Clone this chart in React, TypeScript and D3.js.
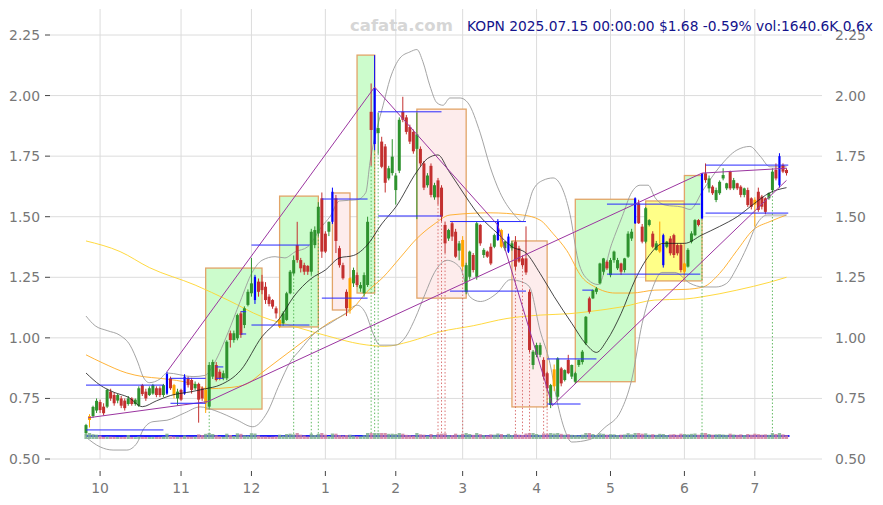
import React, { useEffect, useRef } from 'react';
import * as d3 from 'd3';

// daily candles, Sep 25 2024 .. Jul 15 2025: [open, high, low, close]
const candles: number[][] = [
  [0.607, 0.645, 0.595, 0.64], [0.661, 0.685, 0.63, 0.677], [0.677, 0.72, 0.67, 0.715], [0.7, 0.75, 0.69, 0.74],
  [0.735, 0.745, 0.69, 0.702], [0.716, 0.73, 0.68, 0.689], [0.716, 0.79, 0.71, 0.785], [0.778, 0.79, 0.74, 0.75],
  [0.764, 0.775, 0.72, 0.73], [0.741, 0.77, 0.73, 0.764], [0.75, 0.76, 0.71, 0.72], [0.741, 0.75, 0.7, 0.71],
  [0.727, 0.76, 0.72, 0.75], [0.75, 0.755, 0.72, 0.727], [0.727, 0.75, 0.72, 0.745], [0.72, 0.8, 0.715, 0.792],
  [0.805, 0.81, 0.76, 0.768], [0.778, 0.79, 0.74, 0.75], [0.764, 0.8, 0.76, 0.792], [0.77, 0.81, 0.765, 0.805],
  [0.792, 0.8, 0.755, 0.764], [0.792, 0.8, 0.755, 0.764], [0.764, 0.81, 0.755, 0.805], [0.77, 0.86, 0.765, 0.851],
  [0.833, 0.84, 0.785, 0.792], [0.805, 0.81, 0.75, 0.764], [0.75, 0.79, 0.72, 0.778], [0.785, 0.79, 0.74, 0.745],
  [0.77, 0.85, 0.765, 0.84], [0.833, 0.84, 0.795, 0.805], [0.826, 0.835, 0.77, 0.785], [0.792, 0.82, 0.785, 0.81],
  [0.81, 0.815, 0.65, 0.745], [0.792, 0.8, 0.74, 0.75], [0.73, 0.8, 0.69, 0.785], [0.716, 0.9, 0.71, 0.888],
  [0.84, 0.91, 0.83, 0.9], [0.888, 0.9, 0.82, 0.826], [0.86, 0.87, 0.825, 0.833], [0.833, 0.865, 0.825, 0.854],
  [0.833, 0.99, 0.825, 0.984], [1.019, 1.03, 0.96, 0.991], [0.991, 1.03, 0.98, 1.019], [0.998, 1.1, 0.99, 1.094],
  [1.101, 1.11, 1.0, 1.012], [1.053, 1.13, 1.04, 1.122], [1.136, 1.2, 1.13, 1.19], [1.184, 1.33, 1.17, 1.225],
  [1.156, 1.26, 1.14, 1.252], [1.232, 1.245, 1.17, 1.19], [1.232, 1.26, 1.18, 1.197], [1.211, 1.23, 1.14, 1.156],
  [1.17, 1.18, 1.13, 1.14], [1.156, 1.16, 1.12, 1.129], [1.122, 1.13, 1.08, 1.101], [1.046, 1.08, 1.04, 1.074],
  [1.06, 1.11, 1.05, 1.101], [1.074, 1.19, 1.07, 1.184], [1.184, 1.28, 1.18, 1.273], [1.266, 1.34, 1.26, 1.321],
  [1.383, 1.479, 1.31, 1.321], [1.321, 1.33, 1.27, 1.287], [1.3, 1.31, 1.26, 1.273], [1.297, 1.3, 1.26, 1.273],
  [1.273, 1.45, 1.26, 1.438], [1.383, 1.46, 1.37, 1.445], [1.431, 1.56, 1.42, 1.541], [1.576, 1.6, 1.33, 1.356],
  [1.43, 1.44, 1.35, 1.356], [1.438, 1.48, 1.42, 1.479], [1.479, 1.62, 1.47, 1.603], [1.576, 1.59, 1.35, 1.4],
  [1.37, 1.38, 1.29, 1.3], [1.3, 1.31, 1.24, 1.246], [1.19, 1.2, 1.09, 1.122], [1.122, 1.25, 1.1, 1.246],
  [1.225, 1.29, 1.21, 1.28], [1.259, 1.27, 1.21, 1.218], [1.204, 1.23, 1.19, 1.218], [1.184, 1.27, 1.17, 1.259],
  [1.218, 1.5, 1.21, 1.479], [1.933, 2.05, 1.71, 1.858], [1.8, 2.167, 1.775, 2.03], [1.845, 1.93, 1.76, 1.866],
  [1.81, 1.83, 1.7, 1.706], [1.79, 1.8, 1.6, 1.64], [1.658, 1.71, 1.65, 1.7], [1.68, 1.82, 1.67, 1.748],
  [1.61, 1.68, 1.55, 1.67], [1.69, 1.91, 1.68, 1.9], [1.933, 1.995, 1.89, 1.9], [1.91, 1.92, 1.84, 1.85],
  [1.87, 1.88, 1.8, 1.81], [1.85, 1.86, 1.76, 1.77], [1.78, 1.93, 1.49, 1.84], [1.78, 1.79, 1.71, 1.72],
  [1.72, 1.73, 1.61, 1.62], [1.63, 1.68, 1.62, 1.67], [1.71, 1.72, 1.58, 1.59], [1.58, 1.64, 1.57, 1.63],
  [1.65, 1.66, 1.55, 1.58], [1.62, 1.63, 1.48, 1.5], [1.466, 1.48, 1.35, 1.39], [1.41, 1.45, 1.4, 1.445],
  [1.473, 1.48, 1.4, 1.418], [1.438, 1.45, 1.33, 1.335], [1.36, 1.4, 1.32, 1.39], [1.404, 1.42, 1.28, 1.294],
  [1.19, 1.31, 1.18, 1.3], [1.252, 1.36, 1.24, 1.356], [1.342, 1.35, 1.27, 1.28], [1.252, 1.48, 1.24, 1.473],
  [1.466, 1.47, 1.38, 1.39], [1.342, 1.37, 1.33, 1.363], [1.356, 1.36, 1.33, 1.335], [1.376, 1.39, 1.3, 1.307],
  [1.376, 1.43, 1.37, 1.424], [1.404, 1.49, 1.4, 1.479], [1.445, 1.45, 1.37, 1.376], [1.37, 1.4, 1.36, 1.397],
  [1.356, 1.43, 1.35, 1.418], [1.37, 1.4, 1.36, 1.39], [1.397, 1.42, 1.28, 1.294], [1.37, 1.38, 1.31, 1.315],
  [1.328, 1.34, 1.29, 1.3], [1.328, 1.46, 1.26, 1.27], [1.19, 1.2, 0.94, 0.95], [0.888, 0.95, 0.87, 0.943],
  [0.93, 0.98, 0.92, 0.97], [0.93, 0.98, 0.92, 0.97], [0.909, 0.92, 0.83, 0.84], [0.854, 0.86, 0.78, 0.792],
  [0.723, 0.81, 0.71, 0.805], [0.8, 0.89, 0.78, 0.87], [0.757, 0.92, 0.743, 0.915], [0.874, 0.88, 0.8, 0.812],
  [0.826, 0.87, 0.82, 0.867], [0.909, 0.93, 0.85, 0.854], [0.84, 0.89, 0.83, 0.888], [0.819, 0.86, 0.81, 0.854],
  [0.888, 0.91, 0.88, 0.909], [0.9, 0.95, 0.89, 0.943], [0.977, 1.09, 0.97, 1.087], [1.163, 1.17, 1.1, 1.108],
  [1.163, 1.2, 1.16, 1.197], [1.19, 1.21, 1.18, 1.204], [1.225, 1.31, 1.22, 1.307], [1.273, 1.33, 1.26, 1.328],
  [1.314, 1.32, 1.28, 1.287], [1.259, 1.33, 1.25, 1.321], [1.321, 1.36, 1.31, 1.356], [1.287, 1.33, 1.28, 1.321],
  [1.307, 1.31, 1.26, 1.273], [1.28, 1.33, 1.27, 1.328], [1.335, 1.44, 1.33, 1.43], [1.41, 1.45, 1.4, 1.438],
  [1.473, 1.58, 1.47, 1.576], [1.555, 1.57, 1.47, 1.473], [1.459, 1.47, 1.39, 1.397], [1.397, 1.54, 1.39, 1.535],
  [1.466, 1.49, 1.46, 1.486], [1.43, 1.44, 1.37, 1.376], [1.363, 1.4, 1.36, 1.39], [1.356, 1.48, 1.35, 1.383],
  [1.3, 1.43, 1.29, 1.424], [1.376, 1.4, 1.37, 1.397], [1.41, 1.42, 1.34, 1.349], [1.424, 1.43, 1.33, 1.342],
  [1.383, 1.39, 1.34, 1.349], [1.383, 1.39, 1.27, 1.28], [1.273, 1.31, 1.26, 1.307], [1.294, 1.37, 1.29, 1.363],
  [1.397, 1.44, 1.39, 1.431], [1.424, 1.49, 1.42, 1.486], [1.486, 1.49, 1.46, 1.466], [1.493, 1.68, 1.49, 1.679],
  [1.679, 1.72, 1.64, 1.651], [1.617, 1.67, 1.6, 1.658], [1.624, 1.63, 1.59, 1.597], [1.569, 1.62, 1.56, 1.61],
  [1.597, 1.65, 1.59, 1.644], [1.658, 1.7, 1.65, 1.672], [1.617, 1.64, 1.61, 1.638], [1.686, 1.69, 1.61, 1.617],
  [1.617, 1.66, 1.61, 1.651], [1.638, 1.64, 1.61, 1.617], [1.624, 1.63, 1.58, 1.59], [1.59, 1.62, 1.58, 1.617],
  [1.61, 1.62, 1.54, 1.548], [1.576, 1.58, 1.53, 1.541], [1.57, 1.58, 1.459, 1.55], [1.603, 1.62, 1.52, 1.528],
  [1.583, 1.59, 1.53, 1.541], [1.576, 1.58, 1.51, 1.52], [1.576, 1.6, 1.57, 1.597], [1.61, 1.7, 1.6, 1.686],
  [1.693, 1.72, 1.65, 1.658], [1.63, 1.762, 1.62, 1.75], [1.713, 1.72, 1.68, 1.686], [1.693, 1.7, 1.67, 1.68],
];

// daily volume, thousands of shares
const volumes = [
  2600, 3100, 2300, 2000, 1500, 700, 900, 800, 700, 600, 600, 700, 1800, 600, 500, 900, 700, 600, 600, 700,
  600, 700, 900, 2600, 1200, 900, 800, 700, 1500, 900, 800, 900, 2200, 1800, 2500, 3200, 2400, 1600, 1000, 800,
  2600, 1800, 1200, 2800, 2500, 1600, 1500, 2900, 2700, 1500, 900, 900, 700, 800, 1000, 2000, 1500, 2400, 2600, 2200,
  3100, 2000, 1500, 900, 2600, 1800, 2500, 3200, 2000, 1200, 2700, 2600, 1700, 1500, 1800, 2000, 1400, 1100, 1000, 1600,
  5000, 9000, 12000, 6000, 4000, 3500, 2500, 2600, 2400, 3100, 2600, 1900, 1700, 1500, 4200, 2200, 2000, 1500, 2400, 1600,
  2500, 2600, 2800, 1700, 1800, 2600, 1900, 2500, 3000, 2400, 1900, 3000, 2300, 1800, 1600, 2200, 2000, 2700, 2400, 1700,
  2500, 1800, 2600, 2000, 1900, 2700, 4500, 3200, 2400, 1900, 2800, 2600, 3000, 2700, 3100, 2500, 2000, 2300, 1900, 1800,
  1600, 2000, 3500, 3000, 2400, 1800, 2800, 2500, 2000, 2300, 2200, 1800, 2000, 2100, 2900, 2200, 4000, 3000, 2600, 2800,
  2000, 2300, 1900, 2500, 2400, 1800, 2100, 2300, 1900, 2600, 2400, 2200, 2500, 2700, 2000, 4200, 3000, 2400, 2000, 2200,
  2300, 2100, 1900, 2600, 2100, 1900, 2200, 1800, 2400, 2000, 2600, 2300, 2000, 2200, 1900, 3000, 2400, 3500, 2200, 1640,
];

const blueDays = [23, 28, 48, 70, 82, 117, 120, 156, 164, 175, 197];
const orangeDays = [1, 25, 34, 55, 75, 107, 118, 133, 163, 170, 190];
const greenMarkDays = [35, 59, 64, 66, 81, 82, 83, 175, 195];
const redMarkDays = [100, 101, 102, 107, 122, 124, 126, 130, 131];

const monthTickDays = [4, 27, 47, 68, 88, 107, 128, 149, 170, 190];
const monthLabels = ['10', '11', '12', '1', '2', '3', '4', '5', '6', '7'];
const priceTicks = [0.5, 0.75, 1.0, 1.25, 1.5, 1.75, 2.0, 2.25];

// indicator lines: [day, price]
const ma20: number[][] = [
  [0, 0.855], [4, 0.805], [8, 0.775], [12, 0.755], [16, 0.716], [20, 0.74], [24, 0.762], [30, 0.778],
  [34, 0.79], [38, 0.805], [44, 0.867], [50, 1.005], [55, 1.08], [59, 1.17], [64, 1.245], [68, 1.28],
  [72, 1.33], [76, 1.34], [80, 1.385], [84, 1.47], [88, 1.54], [94, 1.686], [97, 1.74], [100, 1.755],
  [103, 1.69], [106, 1.624], [112, 1.5], [117, 1.43], [121, 1.376], [125, 1.35], [129, 1.266], [133, 1.17],
  [138, 1.06], [142, 0.975], [145, 0.94], [148, 0.99], [152, 1.1], [156, 1.24], [160, 1.34], [164, 1.39],
  [170, 1.39], [175, 1.425], [180, 1.46], [185, 1.5], [190, 1.556], [194, 1.597], [199, 1.62],
];
const bandUpper: number[][] = [
  [0, 1.09], [2.6, 1.05], [6, 1.03], [9.7, 1.01], [12.5, 0.97], [14.8, 0.896], [16.2, 0.84], [18, 0.815],
  [21, 0.83], [23, 0.855], [30.4, 0.84], [33.8, 0.845], [36.6, 0.9], [40.3, 1.02], [43.8, 1.15], [47.2, 1.27],
  [50, 1.32], [53.7, 1.335], [56.5, 1.33], [59.4, 1.355], [63, 1.376], [67, 1.46], [69.3, 1.5], [72, 1.565],
  [77, 1.57], [79.5, 1.6], [80.7, 1.727], [82.7, 1.866], [84.4, 1.96], [86.4, 2.07], [89.2, 2.155], [92, 2.18],
  [94, 2.19], [95.7, 2.14], [97.7, 2.04], [99.7, 1.97], [101.4, 1.96], [103.4, 1.99], [106.3, 1.99], [108.5, 1.97],
  [112, 1.845], [114.8, 1.706], [117.6, 1.6], [121.3, 1.515], [124, 1.48], [125.3, 1.53], [127, 1.61], [129.8, 1.65],
  [132.7, 1.66], [135.5, 1.61], [137.5, 1.51], [139.8, 1.32], [142.6, 1.24], [145.5, 1.22], [149.4, 1.39], [152.3, 1.5],
  [155, 1.6], [157.4, 1.63], [159.7, 1.63], [161.6, 1.58], [164.5, 1.548], [169.3, 1.54], [171.6, 1.53], [175.3, 1.61],
  [180, 1.706], [184.9, 1.775], [188.6, 1.79], [191.5, 1.75], [194.3, 1.706], [199, 1.706],
];
const bandLower: number[][] = [
  [0, 0.59], [4, 0.55], [7.7, 0.537], [11.6, 0.537], [14.5, 0.566], [16.2, 0.62], [19, 0.654], [23, 0.66],
  [28, 0.69], [32.4, 0.715], [36.6, 0.7], [40, 0.68], [43, 0.66], [47.4, 0.633], [51.4, 0.69], [55, 0.81],
  [58, 0.9], [60.8, 0.95], [65, 1.02], [69.3, 1.06], [73.6, 1.1], [77, 1.135], [79.5, 1.1], [81.5, 1.02],
  [83.5, 0.97], [87.8, 0.97], [90.6, 1.0], [93.5, 1.08], [96.3, 1.18], [99, 1.27], [102.6, 1.32], [106.3, 1.29],
  [109, 1.17], [112, 1.15], [116.8, 1.185], [120.5, 1.24], [124, 1.23], [126, 1.21], [129, 1.03], [131.8, 0.895],
  [133.8, 0.74], [136, 0.62], [138, 0.57], [143, 0.58], [147.4, 0.63], [152, 0.7], [155, 0.826], [158, 1.06],
  [160.8, 1.2], [163.6, 1.27], [167.3, 1.27], [171.6, 1.225], [175.3, 1.21], [179, 1.21], [182, 1.225], [184.9, 1.29],
  [187.8, 1.376], [190.6, 1.47], [193.5, 1.507], [199, 1.507],
];
const ma50: number[][] = [
  [0, 0.93], [4.8, 0.896], [11.6, 0.855], [16.2, 0.84], [21, 0.833], [30.4, 0.81], [34.4, 0.79], [40.9, 0.795],
  [45.7, 0.81], [50.3, 0.86], [59.4, 0.96], [68.8, 1.06], [75.9, 1.123], [79.8, 1.19], [84.4, 1.25], [89.2, 1.33],
  [94, 1.41], [98.6, 1.466], [103.4, 1.507], [114.8, 1.516], [124, 1.507], [129, 1.486], [132.7, 1.43], [136.6, 1.36],
  [140.9, 1.25], [144.6, 1.21], [150.3, 1.185], [155, 1.185], [161.6, 1.197], [170.2, 1.2], [175.3, 1.21], [180, 1.266],
  [184.9, 1.36], [189.5, 1.445], [194.3, 1.48], [199, 1.507],
];
const ma200: number[][] = [
  [0, 1.4], [9.7, 1.356], [18, 1.29], [31, 1.218], [40.3, 1.156], [50, 1.087], [59.4, 1.046], [69.3, 1.005],
  [77.8, 0.975], [84.9, 0.965], [92, 0.985], [100.6, 1.025], [110, 1.05], [119.6, 1.08], [129, 1.094], [137.5, 1.1],
  [142.6, 1.108], [152.3, 1.128], [161.6, 1.156], [170, 1.16], [175.3, 1.17], [184.9, 1.197], [194.3, 1.23], [199, 1.25],
];
const trendA: number[][] = [[0.6, 0.67], [34.6, 0.737], [175, 1.68], [199, 1.7]];
const trendB: number[][] = [[23, 0.86], [82, 2.035], [117, 1.465], [132.5, 0.72], [199, 1.65]];

// zones: first day, last day, top, bottom, kind
const zones: [number, number, number, number, string][] = [
  [34, 50, 1.288, 0.706, 'up'], [55, 66, 1.585, 1.045, 'up'], [77, 82, 2.167, 1.185, 'up'],
  [70, 75, 1.598, 1.115, 'down'], [94, 108, 1.944, 1.164, 'down'], [121, 131, 1.4, 0.715, 'down'],
  [139, 156, 1.572, 0.819, 'up'], [159, 170, 1.565, 1.235, 'flat'], [170, 175, 1.67, 1.235, 'up'],
];

// support / resistance levels: from day, to day, price
const levels: number[][] = [
  [0, 22, 0.805], [0, 22, 0.62], [24, 34, 0.833], [24, 34, 0.73], [37, 39, 0.88], [37, 39, 0.833],
  [44, 45.5, 1.108], [44, 45.5, 1.016], [47, 63.5, 1.383], [47, 63.5, 1.053], [67, 80, 1.573], [67, 80, 1.164],
  [83, 101, 1.933], [83, 101, 1.503], [103.4, 125, 1.48], [103.4, 125, 1.193], [131, 145, 0.913], [131, 140.5, 0.727],
  [141, 144, 1.197], [148, 174.5, 1.552], [148, 174.5, 1.263], [176, 199.5, 1.713], [176, 199.5, 1.515],
];

const baseLevel = 0.595;

const W = 883;
const H = 505;

const KopnChart: React.FC = () => {
  const svgRef = useRef<SVGSVGElement>(null);

  useEffect(() => {
    if (!svgRef.current) return;
    const svg = d3.select(svgRef.current);
    svg.selectAll('*').remove();

    const left = 50, right = 822, top = 9, bottom = 459;
    const x = d3.scaleLinear().domain([0, 199]).range([86, 786.5]);
    const y = d3.scaleLinear().domain([0.5, 2.25]).range([459, 35]);
    const vol = d3.scaleLinear().domain([0, 3000]).range([1, 6]).clamp(true);
    const font = 'DejaVu Sans, sans-serif';

    svg.append('rect').attr('width', W).attr('height', H).attr('fill', '#fff');

    // grid
    priceTicks.forEach(p => {
      svg.append('line').attr('x1', left).attr('x2', right).attr('y1', y(p)).attr('y2', y(p))
        .attr('stroke', '#dcdcdc').attr('stroke-width', 1);
      svg.append('line').attr('x1', 45).attr('x2', 50).attr('y1', y(p)).attr('y2', y(p))
        .attr('stroke', '#444').attr('stroke-width', 1);
      svg.append('text').attr('x', 40).attr('y', y(p) + 5).attr('text-anchor', 'end')
        .attr('font-family', font).attr('font-size', 13.9).attr('fill', '#777').text(p.toFixed(2));
      svg.append('text').attr('x', 835).attr('y', y(p) + 5)
        .attr('font-family', font).attr('font-size', 13.9).attr('fill', '#777').text(p.toFixed(2));
    });
    monthTickDays.forEach((d, k) => {
      svg.append('line').attr('x1', x(d)).attr('x2', x(d)).attr('y1', top).attr('y2', bottom)
        .attr('stroke', '#dcdcdc').attr('stroke-width', 1);
      svg.append('line').attr('x1', x(d)).attr('x2', x(d)).attr('y1', 471).attr('y2', 476)
        .attr('stroke', '#444').attr('stroke-width', 1);
      svg.append('text').attr('x', x(d)).attr('y', 493).attr('text-anchor', 'middle')
        .attr('font-family', font).attr('font-size', 13.9).attr('fill', '#777').text(monthLabels[k]);
    });

    // zones
    const zoneFill: Record<string, string> = { up: '#ccfccc', down: '#fdecec', flat: '#ffff88' };
    zones.forEach(([d0, d1, hi, lo, kind]) => {
      svg.append('rect').attr('x', x(d0)).attr('y', y(hi)).attr('width', x(d1) - x(d0)).attr('height', y(lo) - y(hi))
        .attr('fill', zoneFill[kind]).attr('stroke', '#e2a468').attr('stroke-width', 1.3);
    });

    const line = d3.line<number[]>().x(d => x(d[0])).y(d => y(d[1])).curve(d3.curveMonotoneX);
    const drawLine = (data: number[][], color: string, w: number) =>
      svg.append('path').attr('d', line(data)).attr('fill', 'none').attr('stroke', color).attr('stroke-width', w);

    drawLine(ma200, '#ffd52a', 0.9);
    drawLine(ma50, '#ffaa22', 0.9);
    drawLine(bandUpper, '#9a9a9a', 0.9);
    drawLine(bandLower, '#9a9a9a', 0.9);

    // marker dotted lines
    const marks = (days: number[], color: string) => days.forEach(d => {
      svg.append('line').attr('x1', x(d)).attr('x2', x(d)).attr('y1', y(candles[d][2])).attr('y2', y(baseLevel))
        .attr('stroke', color).attr('stroke-width', 0.8).attr('stroke-dasharray', '1.5,2');
    });
    marks(greenMarkDays, '#3aa83a');
    marks(redMarkDays, '#d05050');

    // candles
    const blueSet = new Set(blueDays);
    const orangeSet = new Set(orangeDays);
    candles.forEach(([o, h, l, c], i) => {
      let color = c >= o ? '#2e922e' : '#c3302f';
      let bw = 3;
      if (orangeSet.has(i)) color = '#ffa500';
      if (blueSet.has(i)) { color = '#0000ff'; bw = 2.2; }
      const cx = x(i);
      svg.append('line').attr('x1', cx).attr('x2', cx).attr('y1', y(h)).attr('y2', y(l))
        .attr('stroke', color).attr('stroke-width', 1);
      const y0 = y(Math.max(o, c));
      const bh = Math.max(1, Math.abs(y(o) - y(c)));
      svg.append('rect').attr('x', cx - bw / 2).attr('y', y0).attr('width', bw).attr('height', bh).attr('fill', color);
    });

    drawLine(ma20, '#1a1a1a', 0.8);

    // trend lines
    [trendA, trendB].forEach(t => {
      svg.append('path').attr('d', d3.line<number[]>().x(d => x(d[0])).y(d => y(d[1]))(t))
        .attr('fill', 'none').attr('stroke', '#9b35a0').attr('stroke-width', 1);
    });

    // levels
    levels.forEach(([d0, d1, p]) => {
      svg.append('line').attr('x1', x(d0)).attr('x2', x(d1)).attr('y1', y(p)).attr('y2', y(p))
        .attr('stroke', '#2828ff').attr('stroke-width', 1);
    });

    // volume strip
    svg.append('line').attr('x1', x(0)).attr('x2', x(199) + 3).attr('y1', y(baseLevel)).attr('y2', y(baseLevel))
      .attr('stroke', '#1e1eff').attr('stroke-width', 2.2);
    candles.forEach(([o, , , c], i) => {
      const hgt = vol(volumes[i]);
      svg.append('rect').attr('x', x(i) - 1.6).attr('y', 439 - hgt).attr('width', 3.2).attr('height', hgt)
        .attr('fill', c >= o ? '#7fb08e' : '#cf7f9c').attr('opacity', 0.85);
    });

    // header
    svg.append('text').attr('x', 350).attr('y', 31).attr('font-family', font).attr('font-weight', 'bold')
      .attr('font-size', 16.5).attr('fill', '#d6d6d6').text('cafata.com');
    svg.append('text').attr('x', 467).attr('y', 31).attr('font-family', font)
      .attr('font-size', 13.8).attr('fill', '#14148c').text('KOPN 2025.07.15 00:00:00 $1.68 -0.59% vol:1640.6K 0.6x');
  }, []);

  return <svg ref={svgRef} width={W} height={H} style={{ display: 'block' }} />;
};

export default function App() {
  return (
    <div style={{ position: 'fixed', left: 0, top: 0, width: W, height: H, background: '#fff' }}>
      <KopnChart />
    </div>
  );
}
